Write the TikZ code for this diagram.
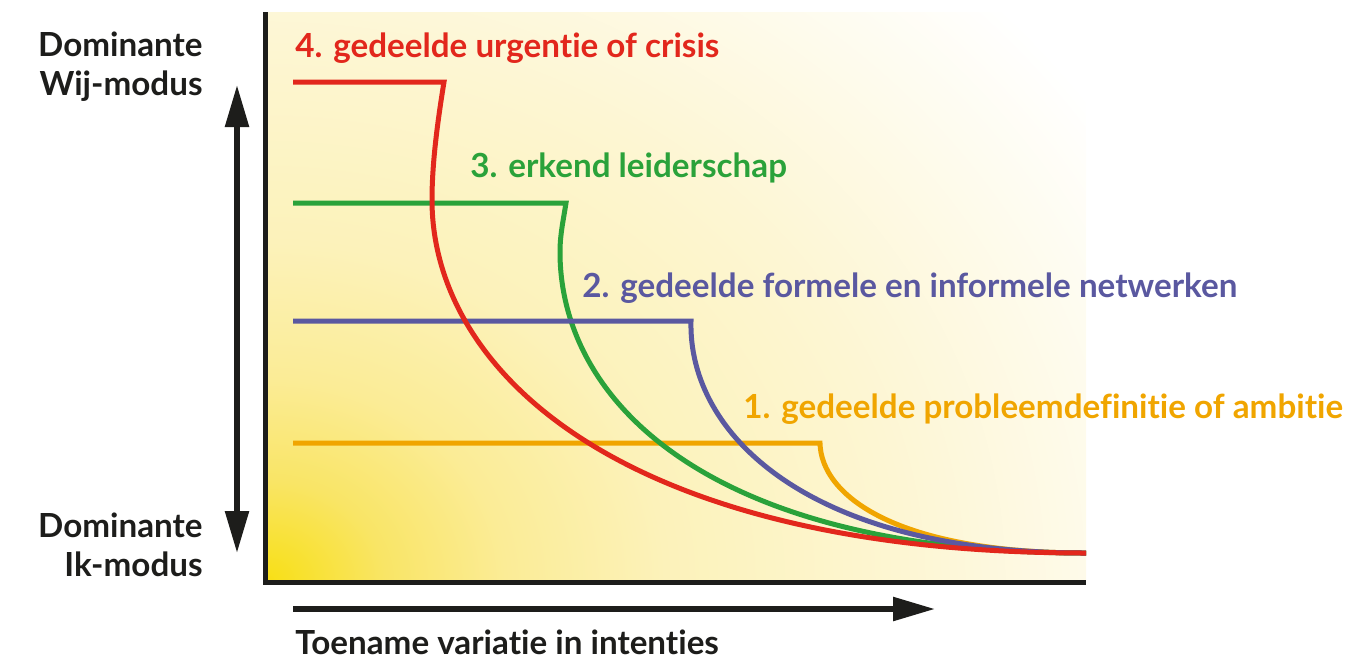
\documentclass[tikz,border=0pt]{standalone}
\usepackage{fontspec}
\setmainfont{Lato}[Ligatures={NoCommon,NoRare,NoContextual}]
\usetikzlibrary{arrows.meta}

\definecolor{inkblack}{HTML}{1D1D1B}
\definecolor{crisisred}{HTML}{E2271C}
\definecolor{leadgreen}{HTML}{2AA23A}
\definecolor{netblue}{HTML}{5A58A0}
\definecolor{ambitionorange}{HTML}{F0A500}
\definecolor{glowA}{HTML}{F8DF14}
\definecolor{glowB}{HTML}{F9E566}
\definecolor{glowC}{HTML}{FBEC96}
\definecolor{glowD}{HTML}{FCF2BA}
\definecolor{glowE}{HTML}{FDF6D3}
\definecolor{glowF}{HTML}{FEFBEC}

% warm glow spreading from the origin corner of the chart
\pgfdeclareradialshading{cornerglow}{\pgfpointorigin}{%
  color(0bp)=(glowA); color(3bp)=(glowB); color(6bp)=(glowC);
  color(10bp)=(glowD); color(16bp)=(glowE); color(21bp)=(glowF);
  color(25bp)=(white); color(50bp)=(white)}

\begin{document}
\begin{tikzpicture}[x=0.5pt,y=-0.5pt,
  lbl/.style={font=\fontsize{16.6}{20}\selectfont\bfseries, inner sep=0pt},
  axisline/.style={draw=inkblack, line width=2.5pt, line join=miter},
  bigarrow/.style={draw=inkblack, line width=2.8pt,
    {Triangle[length=21pt,width=11.5pt]}-{Triangle[length=21pt,width=11.5pt]}},
  onearrow/.style={draw=inkblack, line width=2.8pt,
    -{Triangle[length=21pt,width=11.5pt]}},
  curve/.style={line width=2.5pt, line join=miter}]

\useasboundingbox (0,0) rectangle (1362,660);

% background
\begin{scope}
  \clip (265,12) rectangle (1086,582);
  \shade[shading=cornerglow] (265,582) ellipse [x radius=500pt, y radius=425pt];
\end{scope}

% axes
\coordinate (ytop) at (265,12);
\coordinate (origin) at (265,582);
\coordinate (xend) at (1086,582);
\draw[axisline] (ytop) -- (origin) -- (xend);

% direction arrows
\coordinate (wij) at (237,85);
\coordinate (ik) at (237,553);
\draw[bigarrow] (ik) -- (wij);
\coordinate (xfrom) at (293,609);
\coordinate (xto) at (935,609);
\draw[onearrow] (xfrom) -- (xto);

% common end point of all curves
\coordinate (E) at (1086,553);

% 1. orange
\coordinate (oS) at (293,443);
\coordinate (oC) at (820,443);
\draw[curve, ambitionorange] (oS) -- (oC) .. controls (821,496) and (897,553) .. (E);

% 3. green
\coordinate (gS) at (293,203);
\coordinate (gC) at (566,203);
\coordinate (gL) at (560,252);
\draw[curve, leadgreen] (gS) -- (gC) .. controls (563,222) and (560,235) .. (gL)
  .. controls (560,399) and (705,553) .. (E);

% 2. blue
\coordinate (bS) at (293,321);
\coordinate (bC) at (691,321);
\draw[curve, netblue] (bS) -- (bC) .. controls (688,434) and (808,553) .. (E);

% 4. red
\coordinate (rS) at (293,82);
\coordinate (rC) at (444,82);
\coordinate (rL) at (432,200);
\draw[curve, crisisred] (rS) -- (rC) .. controls (437,125) and (432,165) .. (rL)
  .. controls (432,370) and (620,553) .. (E);

% labels
\node[lbl, text=crisisred, anchor=base west] (l4) at (295,57) {4. gedeelde urgentie of crisis};
\node[lbl, text=leadgreen, anchor=base west] (l3) at (470,177) {3. erkend leiderschap};
\node[lbl, text=netblue, anchor=base west] (l2) at (582,297) {2. gedeelde formele en informele netwerken};
\node[lbl, text=ambitionorange, anchor=base west] (l1) at (743,418) {1. gedeelde probleemdefinitie of ambitie};

\node[lbl, text=inkblack, anchor=base east] (wa) at (203,56) {Dominante};
\node[lbl, text=inkblack, anchor=base east] (wb) at (203,95) {Wij-modus};
\node[lbl, text=inkblack, anchor=base east] (ia) at (203,537) {Dominante};
\node[lbl, text=inkblack, anchor=base east] (ib) at (203,576) {Ik-modus};
\node[lbl, text=inkblack, anchor=base west] (xl) at (295,654) {Toename variatie in intenties};
\end{tikzpicture}
\end{document}
